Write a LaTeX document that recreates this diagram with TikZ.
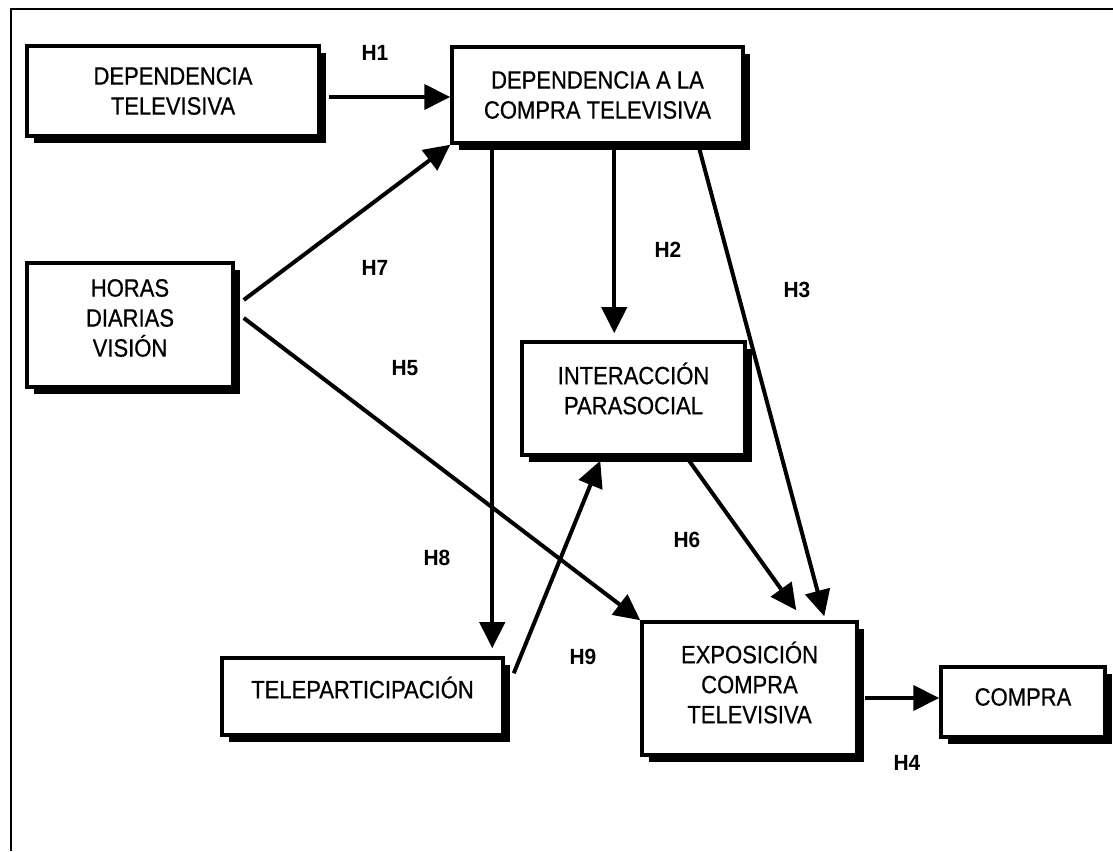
\documentclass[tikz,border=0pt]{standalone}
\usepackage{fontspec}
\setmainfont{Liberation Sans}
\newfontfamily\boxfont{Liberation Sans}[FakeStretch=0.88,FakeBold=0.6]
\newfontfamily\hypfont{Liberation Sans Bold}[FakeStretch=0.95]
\usetikzlibrary{arrows.meta,shadows}
\begin{document}
\begin{tikzpicture}[x=1pt,y=1pt,
  box/.style={draw=black, line width=3.5pt, fill=white, inner sep=0pt,
    general shadow={fill=black, shadow xshift=7pt, shadow yshift=-7pt}},
  boxtext/.style={align=center, inner sep=0pt, font=\boxfont\fontsize{25}{30}\selectfont},
  hyp/.style={inner sep=0pt, font=\hypfont\fontsize{22}{26}\selectfont},
  link/.style={line width=4pt, -{Triangle[length=26pt,width=25pt]}},
  frame/.style={line width=2.5pt}]
\useasboundingbox (0,0) rectangle (1113,851);

% outer frame (top and left sides only)
\coordinate (ftr) at (1113,842);
\coordinate (ftl) at (11,842);
\coordinate (fbl) at (11,0);
\draw[frame] (ftr) -- (ftl) -- (fbl);

% constructs
\node[box, minimum width=292pt, minimum height=90pt]  (dep)    at (173,760)     {};
\node[box, minimum width=291pt, minimum height=96pt]  (dct)    at (597.5,756)   {};
\node[box, minimum width=206pt, minimum height=124pt] (hor)    at (130,526)     {};
\node[box, minimum width=223pt, minimum height=113pt] (inter)  at (633.5,452.5) {};
\node[box, minimum width=281pt, minimum height=77pt]  (tele)   at (362.5,154.5) {};
\node[box, minimum width=215pt, minimum height=133pt] (expo)   at (749.5,162.5) {};
\node[box, minimum width=164pt, minimum height=70pt]  (compra) at (1023,149)    {};

\node[boxtext] (depT)    at (dep.center)                {DEPENDENCIA\\TELEVISIVA};
\node[boxtext] (dctT)    at (dct.center)                {DEPENDENCIA A LA\\COMPRA TELEVISIVA};
\node[boxtext] (horT)    at ([yshift=7pt]hor.center)    {HORAS\\DIARIAS\\VISIÓN};
\node[boxtext] (interT)  at ([yshift=10pt]inter.center) {INTERACCIÓN\\PARASOCIAL};
\node[boxtext] (teleT)   at ([yshift=9pt]tele.center)   {TELEPARTICIPACIÓN};
\node[boxtext] (expoT)   at ([yshift=6pt]expo.center)   {EXPOSICIÓN\\COMPRA\\TELEVISIVA};
\node[boxtext] (compraT) at ([yshift=5pt]compra.center) {COMPRA};

% hypotheses
\draw[link] ([shift={(8pt,-6pt)}]dep.east) -- ([yshift=-2pt]dct.west);
\draw[link] ([xshift=164pt]dct.south west) -- ([shift={(94pt,7pt)}]inter.north west);
\draw[link] ([xshift=248pt]dct.south west) -- ([shift={(184pt,4pt)}]expo.north west);
\draw[link] ([shift={(6pt,-9.5pt)}]expo.east) -- ([yshift=4pt]compra.west);
\draw[link] ([shift={(9pt,7pt)}]hor.east) -- (expo.north west);
\draw[link] ([xshift=166pt]inter.south west) -- ([shift={(156pt,10pt)}]expo.north west);
\draw[link] ([shift={(9pt,25pt)}]hor.east) -- (dct.south west);
\draw[link] ([xshift=42pt]dct.south west) -- ([shift={(272pt,8pt)}]tele.north west);
\draw[link] ([shift={(9pt,-17pt)}]tele.north east) -- ([shift={(80pt,-4pt)}]inter.south west);

\node[hyp] (h1) at (375,798) {H1};
\node[hyp] (h2) at (668,601) {H2};
\node[hyp] (h3) at (797,561) {H3};
\node[hyp] (h4) at (907,88)  {H4};
\node[hyp] (h5) at (405,483) {H5};
\node[hyp] (h6) at (687,311) {H6};
\node[hyp] (h7) at (375,583) {H7};
\node[hyp] (h8) at (437,293) {H8};
\node[hyp] (h9) at (583,194) {H9};
\end{tikzpicture}
\end{document}
